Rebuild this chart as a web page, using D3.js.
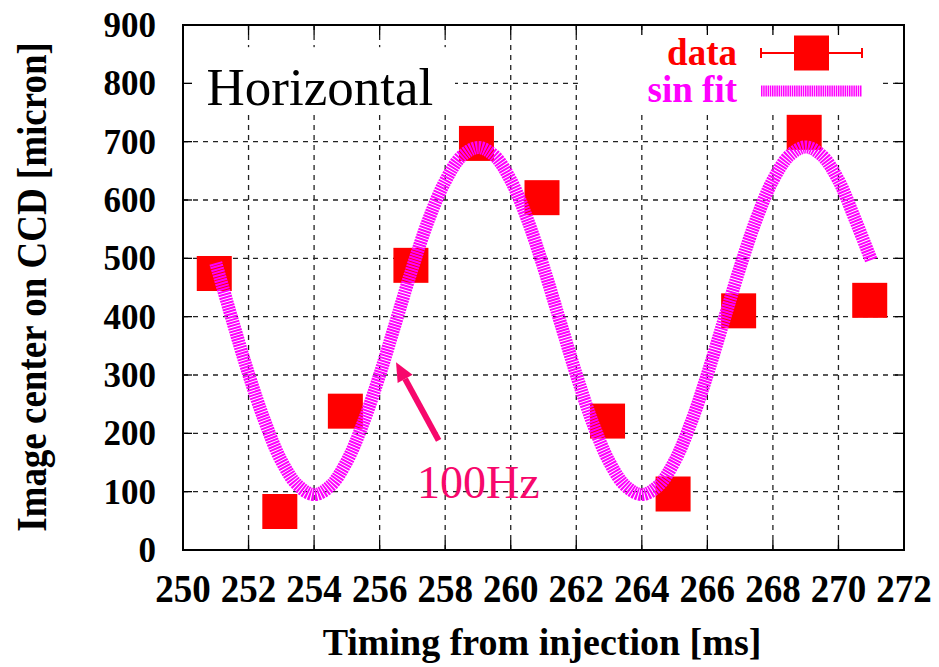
<!DOCTYPE html>
<html>
<head>
<meta charset="utf-8">
<script src="https://cdn.jsdelivr.net/npm/d3@7"></script>
<style>
  body { margin: 0; background: #fff; }
  text { font-family: "Liberation Serif", "Times New Roman", serif; }
</style>
</head>
<body>
<div id="chart"></div>
<script>
let timing = [251, 253, 255, 257, 259, 261, 263, 265, 267, 269, 271];
let center = [474, 66, 238, 488, 697, 604, 221, 96, 410, 716, 428];

let fitTime = [251, 251.5, 252, 252.5, 253, 253.5, 254, 254.5, 255, 255.5,
  256, 256.5, 257, 257.5, 258, 258.5, 259, 259.5, 260, 260.5,
  261, 261.5, 262, 262.5, 263, 263.5, 264, 264.5, 265, 265.5,
  266, 266.5, 267, 267.5, 268, 268.5, 269, 269.5, 270, 270.5, 271];
let fitValue = [492, 395, 302, 220, 153, 111, 95, 110, 152, 218,
  300, 392, 484, 567, 632, 675, 690, 676, 634, 568,
  485, 393, 301, 218, 152, 110, 95, 110, 152, 218,
  301, 393, 485, 568, 634, 676, 691, 676, 634, 568, 497];

let xTicks = [250, 252, 254, 256, 258, 260, 262, 264, 266, 268, 270, 272];
let yTicks = [0, 100, 200, 300, 400, 500, 600, 700, 800, 900];

let arrowFrom = [257.8, 188];
let arrowTo = [256.5, 322];

(function () {
  let width = 939,
    height = 667;

  let svg = d3.select('#chart').append('svg')
    .attr('width', width)
    .attr('height', height);

  let x = d3.scaleLinear().domain([250, 272]).range([183, 904]);
  let y = d3.scaleLinear().domain([0, 900]).range([550, 25]);

  let red = '#ff0000',
    magenta = '#ff00ff',
    pink = '#f7086c';

  // grid
  let grid = svg.append('g')
    .attr('stroke', '#222')
    .attr('stroke-width', 1.3)
    .attr('stroke-dasharray', '5,5');

  grid.selectAll('line.vgrid')
    .data(xTicks.slice(1, -1)).enter()
    .append('line')
    .attr('class', 'vgrid')
    .attr('x1', (d) => x(d))
    .attr('x2', (d) => x(d))
    .attr('y1', y(0))
    .attr('y2', y(900));

  grid.selectAll('line.hgrid')
    .data(yTicks.slice(1, -1)).enter()
    .append('line')
    .attr('class', 'hgrid')
    .attr('y1', (d) => y(d))
    .attr('y2', (d) => y(d))
    .attr('x1', x(250))
    .attr('x2', x(272));

  // opaque boxes behind label and key
  svg.append('rect')
    .attr('x', x(250))
    .attr('y', y(862))
    .attr('width', x(258.3) - x(250))
    .attr('height', y(754) - y(862))
    .attr('fill', '#fff');

  svg.append('rect')
    .attr('x', x(262.05))
    .attr('y', y(888))
    .attr('width', x(271.3) - x(262.05))
    .attr('height', y(754) - y(888))
    .attr('fill', '#fff');

  // ticks, inward, mirrored
  let ticks = svg.append('g').attr('stroke', '#000').attr('stroke-width', 1.3);
  ticks.selectAll('line.xb')
    .data(xTicks).enter()
    .append('line')
    .attr('x1', (d) => x(d)).attr('x2', (d) => x(d))
    .attr('y1', y(0)).attr('y2', y(0) - 10);
  ticks.selectAll('line.xt')
    .data(xTicks).enter()
    .append('line')
    .attr('x1', (d) => x(d)).attr('x2', (d) => x(d))
    .attr('y1', y(900)).attr('y2', y(900) + 10);
  ticks.selectAll('line.yl')
    .data(yTicks).enter()
    .append('line')
    .attr('y1', (d) => y(d)).attr('y2', (d) => y(d))
    .attr('x1', x(250)).attr('x2', x(250) + 9);
  ticks.selectAll('line.yr')
    .data(yTicks).enter()
    .append('line')
    .attr('y1', (d) => y(d)).attr('y2', (d) => y(d))
    .attr('x1', x(272)).attr('x2', x(272) - 9);

  // data squares
  let size = 35;
  svg.append('g').selectAll('rect.pt')
    .data(timing).enter()
    .append('rect')
    .attr('class', 'pt')
    .attr('x', (d) => x(d) - size / 2 - 1.5)
    .attr('y', (d, i) => y(center[i]) - size / 2)
    .attr('width', size)
    .attr('height', size)
    .attr('fill', red);

  // sin fit
  let line = d3.line()
    .x((d) => x(d))
    .y((d, i) => y(fitValue[i]))
    .curve(d3.curveCatmullRom);

  svg.append('path')
    .attr('d', line(fitTime))
    .attr('fill', 'none')
    .attr('stroke', magenta)
    .attr('stroke-width', 13)
    .attr('stroke-dasharray', '2,0.9');

  // frame
  svg.append('rect')
    .attr('x', x(250))
    .attr('y', y(900))
    .attr('width', x(272) - x(250))
    .attr('height', y(0) - y(900))
    .attr('fill', 'none')
    .attr('stroke', '#000')
    .attr('stroke-width', 2);

  // tick labels
  svg.append('g').selectAll('text.xlabel')
    .data(xTicks).enter()
    .append('text')
    .attr('class', 'xlabel')
    .attr('transform', (d) => 'translate(' + x(d) + ',602) scale(1,1.08)')
    .attr('text-anchor', 'middle')
    .style('font-size', '37px')
    .style('font-weight', 'bold')
    .text((d) => d);

  svg.append('g').selectAll('text.ylabel')
    .data(yTicks).enter()
    .append('text')
    .attr('class', 'ylabel')
    .attr('x', 156)
    .attr('y', (d) => y(d) + 12)
    .attr('text-anchor', 'end')
    .style('font-size', '35px')
    .style('font-weight', 'bold')
    .text((d) => d);

  // axis titles
  svg.append('text')
    .attr('x', 542)
    .attr('y', 655)
    .attr('text-anchor', 'middle')
    .style('font-size', '38px')
    .style('font-weight', 'bold')
    .text('Timing from injection [ms]');

  svg.append('text')
    .attr('transform', 'translate(46,287) rotate(-90) scale(1,1.15)')
    .attr('text-anchor', 'middle')
    .style('font-size', '37px')
    .style('font-weight', 'bold')
    .text('Image center on CCD [micron]');

  // labels
  svg.append('text')
    .attr('x', x(250.72))
    .attr('y', y(763))
    .style('font-size', '53px')
    .text('Horizontal');

  svg.append('text')
    .attr('x', x(257.14))
    .attr('y', y(89))
    .attr('fill', pink)
    .style('font-size', '46px')
    .text('100Hz');

  // arrow
  let ax0 = x(arrowFrom[0]), ay0 = y(arrowFrom[1]);
  let ax1 = x(arrowTo[0]), ay1 = y(arrowTo[1]);
  let ang = Math.atan2(ay1 - ay0, ax1 - ax0);
  let headLen = 19, headW = 8.5;
  let bx = ax1 - headLen * Math.cos(ang), by = ay1 - headLen * Math.sin(ang);
  svg.append('line')
    .attr('x1', ax0).attr('y1', ay0)
    .attr('x2', bx).attr('y2', by)
    .attr('stroke', pink)
    .attr('stroke-width', 6);
  svg.append('path')
    .attr('d', 'M' + ax1 + ',' + ay1 +
      'L' + (bx + headW * Math.sin(ang)) + ',' + (by - headW * Math.cos(ang)) +
      'L' + (bx - headW * Math.sin(ang)) + ',' + (by + headW * Math.cos(ang)) + 'Z')
    .attr('fill', pink);

  // key
  let key = svg.append('g');
  key.append('text')
    .attr('x', 737).attr('y', 65)
    .attr('text-anchor', 'end')
    .attr('fill', red)
    .style('font-size', '37px')
    .style('font-weight', 'bold')
    .text('data');
  key.append('line')
    .attr('x1', 761).attr('x2', 862)
    .attr('y1', 53).attr('y2', 53)
    .attr('stroke', red).attr('stroke-width', 2);
  [761, 862].forEach((cx) => {
    key.append('line')
      .attr('x1', cx).attr('x2', cx)
      .attr('y1', 48).attr('y2', 58)
      .attr('stroke', red).attr('stroke-width', 2);
  });
  key.append('rect')
    .attr('x', 811.5 - size / 2).attr('y', 53 - size / 2)
    .attr('width', size).attr('height', size)
    .attr('fill', red);

  key.append('text')
    .attr('x', 737).attr('y', 102)
    .attr('text-anchor', 'end')
    .attr('fill', magenta)
    .style('font-size', '37px')
    .style('font-weight', 'bold')
    .text('sin fit');
  key.append('line')
    .attr('x1', 761).attr('x2', 862)
    .attr('y1', 91).attr('y2', 91)
    .attr('stroke', magenta)
    .attr('stroke-width', 11)
    .attr('stroke-dasharray', '1.5,0.7');
})();
</script>
</body>
</html>
